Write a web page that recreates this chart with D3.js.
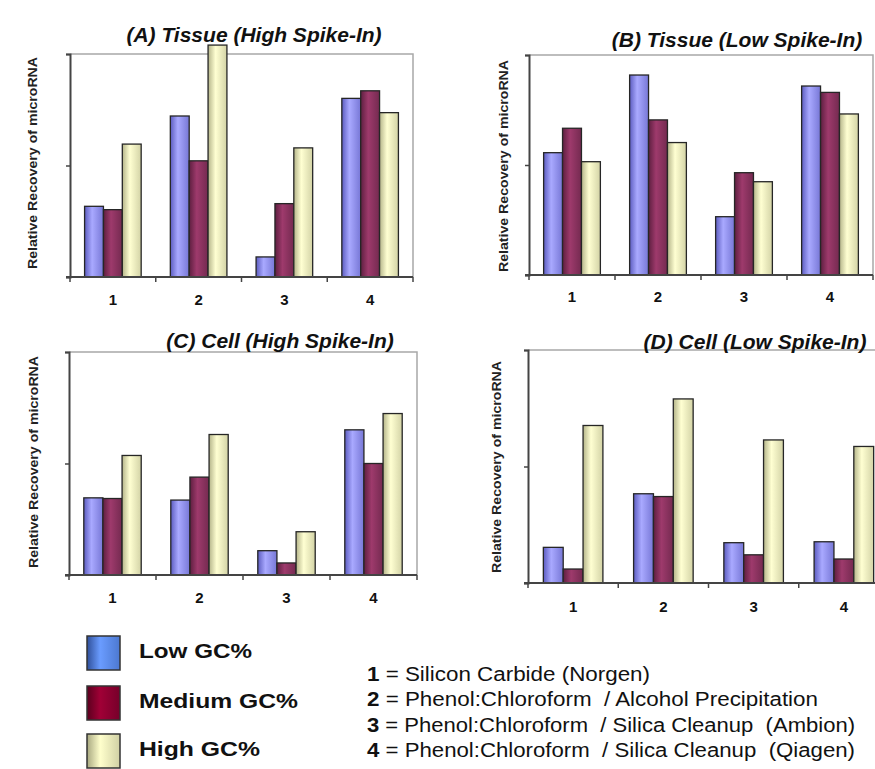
<!DOCTYPE html>
<html>
<head>
<meta charset="utf-8">
<script src="https://cdn.jsdelivr.net/npm/d3@7"></script>
<style>
  body { margin: 0; background: #fff; }
  svg { display: block; overflow: hidden; }
  text { font-family: Arial, "Liberation Sans", sans-serif; }
</style>
</head>
<body>
<div id="chart"></div>
<script>
// Data (relative units, axis top = 1)
const categories = ['1', '2', '3', '4'];
const seriesNames = ['Low GC%', 'Medium GC%', 'High GC%'];
const yTicks = [0, 0.5, 1];

const tissueHighLow = [0.317, 0.722, 0.09, 0.801];
const tissueHighMed = [0.302, 0.521, 0.329, 0.835];
const tissueHighHigh = [0.596, 1.04, 0.579, 0.737];

const tissueLowLow = [0.556, 0.909, 0.265, 0.859];
const tissueLowMed = [0.667, 0.705, 0.465, 0.830];
const tissueLowHigh = [0.515, 0.602, 0.424, 0.732];

const cellHighLow = [0.346, 0.336, 0.109, 0.651];
const cellHighMed = [0.343, 0.439, 0.054, 0.50];
const cellHighHigh = [0.536, 0.630, 0.194, 0.724];

const cellLowLow = [0.153, 0.383, 0.173, 0.177];
const cellLowMed = [0.06, 0.371, 0.121, 0.103];
const cellLowHigh = [0.676, 0.79, 0.614, 0.586];

const methods = [
    ['1', ' = Silicon Carbide (Norgen)'],
    ['2', ' = Phenol:Chloroform  / Alcohol Precipitation'],
    ['3', ' = Phenol:Chloroform  / Silica Cleanup  (Ambion)'],
    ['4', ' = Phenol:Chloroform  / Silica Cleanup  (Qiagen)']
];

const yLabel = 'Relative Recovery of microRNA';

const width = 875, height = 769;

const svg = d3.select('#chart')
    .append('svg')
    .attr('width', width)
    .attr('height', height);

// bar gradients
const barColors = [
    { dark: '#5c5cc0', light: '#a9a9ff', end: '#7777d6' },
    { dark: '#5e1f40', light: '#9e3a6c', end: '#742a50' },
    { dark: '#b5b58a', light: '#ffffd2', end: '#d3d3a6' }
];
const legendColors = [
    { dark: '#2f4f99', light: '#6a9cff', end: '#4c78d0' },
    { dark: '#5a001e', light: '#a00036', end: '#76002a' },
    { dark: '#a8a880', light: '#ffffcc', end: '#d0d0a4' }
];

const defs = svg.append('defs');
function addGrad(id, c) {
    const g = defs.append('linearGradient')
        .attr('id', id)
        .attr('x1', 0).attr('x2', 1).attr('y1', 0).attr('y2', 0);
    g.append('stop').attr('offset', '0%').attr('stop-color', c.dark);
    g.append('stop').attr('offset', '40%').attr('stop-color', c.light);
    g.append('stop').attr('offset', '100%').attr('stop-color', c.end);
}
barColors.forEach((c, i) => addGrad('bar' + i, c));
legendColors.forEach((c, i) => addGrad('leg' + i, c));

const panels = [
    { title: '(A) Tissue (High Spike-In)', series: [tissueHighLow, tissueHighMed, tissueHighHigh],
      left: 70, right: 413, top: 54, bottom: 277, titleX: 254, titleY: 42, labX: 33, labY: 163, tickY: 305 },
    { title: '(B) Tissue (Low Spike-In)', series: [tissueLowLow, tissueLowMed, tissueLowHigh],
      left: 529, right: 873, top: 55, bottom: 275, titleX: 737, titleY: 47, labX: 504, labY: 166, tickY: 302 },
    { title: '(C) Cell (High Spike-In)', series: [cellHighLow, cellHighMed, cellHighHigh],
      left: 69, right: 417, top: 352, bottom: 575, titleX: 280, titleY: 348, labX: 34, labY: 462, tickY: 603 },
    { title: '(D) Cell (Low Spike-In)', series: [cellLowLow, cellLowMed, cellLowHigh],
      left: 528, right: 889, top: 350, bottom: 583, titleX: 755, titleY: 349, labX: 497, labY: 467, tickY: 612 }
];

panels.forEach(p => {
    const g = svg.append('g');

    const x0 = d3.scaleBand()
        .domain(categories)
        .range([p.left, p.right])
        .paddingInner(0.34)
        .paddingOuter(0.17);
    const x1 = d3.scaleBand()
        .domain(d3.range(seriesNames.length))
        .range([0, x0.bandwidth()]);
    const y = d3.scaleLinear()
        .domain([0, 1])
        .range([p.bottom, p.top]);

    // plot area border (top and right)
    g.append('path')
        .attr('d', `M${p.left},${p.top}H${p.right}V${p.bottom}`)
        .attr('fill', 'none')
        .attr('stroke', '#a8a8a8')
        .attr('stroke-width', 1.5);

    // bars
    const rows = categories.map((c, i) => ({ cat: c, vals: p.series.map(s => s[i]) }));
    g.selectAll('.grp')
        .data(rows)
        .join('g')
        .attr('transform', d => `translate(${x0(d.cat)},0)`)
        .selectAll('rect')
        .data(d => d.vals.map((v, k) => ({ k, v })))
        .join('rect')
        .attr('x', d => x1(d.k))
        .attr('y', d => y(d.v))
        .attr('width', x1.bandwidth())
        .attr('height', d => y(0) - y(d.v))
        .attr('fill', d => `url(#bar${d.k})`)
        .attr('stroke', '#262626')
        .attr('stroke-width', 1.3);

    // y axis
    const yAxis = g.append('g')
        .attr('transform', `translate(${p.left},0)`)
        .call(d3.axisLeft(y).tickValues(yTicks).tickSize(4).tickFormat(''));
    yAxis.select('.domain').attr('stroke', '#444').attr('stroke-width', 2);
    yAxis.selectAll('.tick line').attr('stroke', '#444').attr('stroke-width', 1.5);

    // x axis: ticks sit on the category boundaries
    const xAxis = g.append('g').attr('transform', `translate(0,${p.bottom})`);
    xAxis.append('line')
        .attr('x1', p.left - 4).attr('x2', p.right)
        .attr('stroke', '#444').attr('stroke-width', 2);
    xAxis.selectAll('.xt')
        .data(d3.range(categories.length + 1))
        .join('line')
        .attr('x1', i => p.left + i * x0.step())
        .attr('x2', i => p.left + i * x0.step())
        .attr('y1', 0).attr('y2', 5)
        .attr('stroke', '#444').attr('stroke-width', 1.5);
    xAxis.selectAll('.xl')
        .data(categories)
        .join('text')
        .attr('x', d => x0(d) + x0.bandwidth() / 2)
        .attr('y', p.tickY - p.bottom)
        .attr('text-anchor', 'middle')
        .attr('font-size', 15)
        .attr('font-weight', 'bold')
        .attr('fill', '#111')
        .text(d => d);

    // title
    g.append('text')
        .attr('x', p.titleX)
        .attr('y', p.titleY)
        .attr('text-anchor', 'middle')
        .attr('font-size', 21)
        .attr('font-weight', 'bold')
        .attr('font-style', 'italic')
        .attr('fill', '#111')
        .text(p.title);

    // y label
    g.append('text')
        .attr('transform', `translate(${p.labX + 4},${p.labY}) rotate(-90)`)
        .attr('text-anchor', 'middle')
        .attr('font-size', 13)
        .attr('font-weight', 'bold')
        .attr('fill', '#222')
        .attr('textLength', 212)
        .attr('lengthAdjust', 'spacingAndGlyphs')
        .text(yLabel);
});

// legend
const legend = svg.append('g');
const legendTops = [636, 686, 734];
const legendWidths = [113, 159, 121];
seriesNames.forEach((name, i) => {
    legend.append('rect')
        .attr('x', 87).attr('y', legendTops[i])
        .attr('width', 33).attr('height', 34)
        .attr('fill', `url(#leg${i})`)
        .attr('stroke', '#333').attr('stroke-width', 1.5);
    legend.append('text')
        .attr('x', 139).attr('y', legendTops[i] + 22)
        .attr('font-size', 21)
        .attr('font-weight', 'bold')
        .attr('fill', '#111')
        .attr('textLength', legendWidths[i])
        .attr('lengthAdjust', 'spacingAndGlyphs')
        .text(name);
});

// method key
const key = svg.append('g');
const methodWidths = [283, 451, 488, 488];
methods.forEach((m, i) => {
    const t = key.append('text')
        .attr('x', 367)
        .attr('y', 681 + i * 25.3)
        .attr('font-size', 20)
        .attr('fill', '#111')
        .attr('textLength', methodWidths[i])
        .attr('lengthAdjust', 'spacingAndGlyphs')
        .style('white-space', 'pre');
    t.append('tspan').attr('font-weight', 'bold').text(m[0]);
    t.append('tspan').text(m[1]);
});
</script>
</body>
</html>
